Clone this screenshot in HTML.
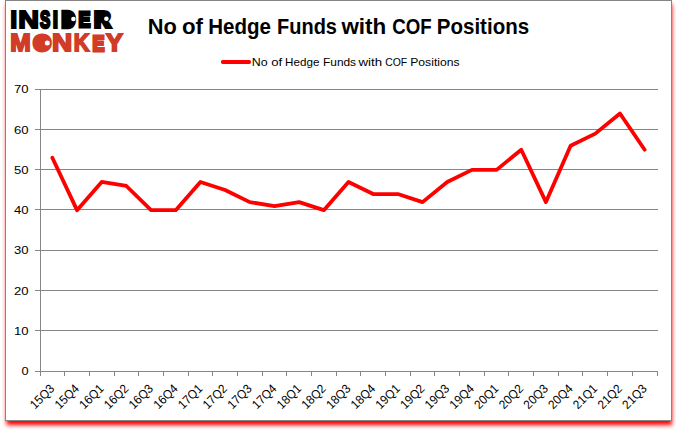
<!DOCTYPE html>
<html><head><meta charset="utf-8"><title>No of Hedge Funds with COF Positions</title>
<style>
html,body{margin:0;padding:0;background:#fff;}
body{width:678px;height:431px;overflow:hidden;position:relative;}
svg{position:absolute;left:0;top:0;}
.ax{font-family:"Liberation Sans",sans-serif;font-size:11.6px;fill:#000;}
.xl{font-family:"Liberation Sans",sans-serif;font-size:12.5px;fill:#000;}
.lg{font-family:"Liberation Sans",sans-serif;font-size:11.2px;fill:#000;}
.tt{font-family:"Liberation Sans",sans-serif;font-size:22px;font-weight:bold;fill:#000;}
.lo{font-family:"Liberation Sans",sans-serif;font-weight:bold;stroke-linejoin:miter;}
</style></head>
<body>
<svg width="678" height="431" viewBox="0 0 678 431">
<defs><filter id="sh" x="-5%" y="-5%" width="110%" height="110%"><feGaussianBlur stdDeviation="1.9"/></filter></defs>
<rect x="6.4" y="4" width="665.60" height="421.10" fill="#ff0000" filter="url(#sh)"/>
<rect x="5.5" y="0.5" width="666" height="420" fill="#fff" stroke="#848484" stroke-width="1"/>
<line x1="35" y1="371.5" x2="658" y2="371.5" stroke="#868686" stroke-width="1"/>
<line x1="35" y1="330.5" x2="658" y2="330.5" stroke="#868686" stroke-width="1"/>
<line x1="35" y1="290.5" x2="658" y2="290.5" stroke="#868686" stroke-width="1"/>
<line x1="35" y1="250.5" x2="658" y2="250.5" stroke="#868686" stroke-width="1"/>
<line x1="35" y1="209.5" x2="658" y2="209.5" stroke="#868686" stroke-width="1"/>
<line x1="35" y1="169.5" x2="658" y2="169.5" stroke="#868686" stroke-width="1"/>
<line x1="35" y1="129.5" x2="658" y2="129.5" stroke="#868686" stroke-width="1"/>
<line x1="35" y1="89.5" x2="658" y2="89.5" stroke="#868686" stroke-width="1"/>
<line x1="40.5" y1="89" x2="40.5" y2="372" stroke="#868686" stroke-width="1"/>
<line x1="40.5" y1="371" x2="40.5" y2="376" stroke="#868686" stroke-width="1"/>
<line x1="64.5" y1="371" x2="64.5" y2="376" stroke="#868686" stroke-width="1"/>
<line x1="89.5" y1="371" x2="89.5" y2="376" stroke="#868686" stroke-width="1"/>
<line x1="114.5" y1="371" x2="114.5" y2="376" stroke="#868686" stroke-width="1"/>
<line x1="138.5" y1="371" x2="138.5" y2="376" stroke="#868686" stroke-width="1"/>
<line x1="163.5" y1="371" x2="163.5" y2="376" stroke="#868686" stroke-width="1"/>
<line x1="188.5" y1="371" x2="188.5" y2="376" stroke="#868686" stroke-width="1"/>
<line x1="212.5" y1="371" x2="212.5" y2="376" stroke="#868686" stroke-width="1"/>
<line x1="237.5" y1="371" x2="237.5" y2="376" stroke="#868686" stroke-width="1"/>
<line x1="262.5" y1="371" x2="262.5" y2="376" stroke="#868686" stroke-width="1"/>
<line x1="286.5" y1="371" x2="286.5" y2="376" stroke="#868686" stroke-width="1"/>
<line x1="311.5" y1="371" x2="311.5" y2="376" stroke="#868686" stroke-width="1"/>
<line x1="336.5" y1="371" x2="336.5" y2="376" stroke="#868686" stroke-width="1"/>
<line x1="360.5" y1="371" x2="360.5" y2="376" stroke="#868686" stroke-width="1"/>
<line x1="385.5" y1="371" x2="385.5" y2="376" stroke="#868686" stroke-width="1"/>
<line x1="410.5" y1="371" x2="410.5" y2="376" stroke="#868686" stroke-width="1"/>
<line x1="434.5" y1="371" x2="434.5" y2="376" stroke="#868686" stroke-width="1"/>
<line x1="459.5" y1="371" x2="459.5" y2="376" stroke="#868686" stroke-width="1"/>
<line x1="484.5" y1="371" x2="484.5" y2="376" stroke="#868686" stroke-width="1"/>
<line x1="508.5" y1="371" x2="508.5" y2="376" stroke="#868686" stroke-width="1"/>
<line x1="533.5" y1="371" x2="533.5" y2="376" stroke="#868686" stroke-width="1"/>
<line x1="558.5" y1="371" x2="558.5" y2="376" stroke="#868686" stroke-width="1"/>
<line x1="582.5" y1="371" x2="582.5" y2="376" stroke="#868686" stroke-width="1"/>
<line x1="607.5" y1="371" x2="607.5" y2="376" stroke="#868686" stroke-width="1"/>
<line x1="632.5" y1="371" x2="632.5" y2="376" stroke="#868686" stroke-width="1"/>
<line x1="657.5" y1="371" x2="657.5" y2="376" stroke="#868686" stroke-width="1"/>
<text x="28.6" y="375" text-anchor="end" class="ax" textLength="7.1" lengthAdjust="spacingAndGlyphs">0</text>
<text x="28.6" y="335" text-anchor="end" class="ax" textLength="14.6" lengthAdjust="spacingAndGlyphs">10</text>
<text x="28.6" y="295" text-anchor="end" class="ax" textLength="14.6" lengthAdjust="spacingAndGlyphs">20</text>
<text x="28.6" y="254" text-anchor="end" class="ax" textLength="14.6" lengthAdjust="spacingAndGlyphs">30</text>
<text x="28.6" y="214" text-anchor="end" class="ax" textLength="14.6" lengthAdjust="spacingAndGlyphs">40</text>
<text x="28.6" y="174" text-anchor="end" class="ax" textLength="14.6" lengthAdjust="spacingAndGlyphs">50</text>
<text x="28.6" y="134" text-anchor="end" class="ax" textLength="14.6" lengthAdjust="spacingAndGlyphs">60</text>
<text x="28.6" y="93" text-anchor="end" class="ax" textLength="14.6" lengthAdjust="spacingAndGlyphs">70</text>
<text transform="translate(52.34,386.60) rotate(-45)" x="0" y="4.06" text-anchor="end" class="xl" textLength="28.6" lengthAdjust="spacingAndGlyphs">15Q3</text>
<text transform="translate(77.02,386.60) rotate(-45)" x="0" y="4.06" text-anchor="end" class="xl" textLength="28.6" lengthAdjust="spacingAndGlyphs">15Q4</text>
<text transform="translate(101.70,386.60) rotate(-45)" x="0" y="4.06" text-anchor="end" class="xl" textLength="28.6" lengthAdjust="spacingAndGlyphs">16Q1</text>
<text transform="translate(126.38,386.60) rotate(-45)" x="0" y="4.06" text-anchor="end" class="xl" textLength="28.6" lengthAdjust="spacingAndGlyphs">16Q2</text>
<text transform="translate(151.06,386.60) rotate(-45)" x="0" y="4.06" text-anchor="end" class="xl" textLength="28.6" lengthAdjust="spacingAndGlyphs">16Q3</text>
<text transform="translate(175.74,386.60) rotate(-45)" x="0" y="4.06" text-anchor="end" class="xl" textLength="28.6" lengthAdjust="spacingAndGlyphs">16Q4</text>
<text transform="translate(200.42,386.60) rotate(-45)" x="0" y="4.06" text-anchor="end" class="xl" textLength="28.6" lengthAdjust="spacingAndGlyphs">17Q1</text>
<text transform="translate(225.10,386.60) rotate(-45)" x="0" y="4.06" text-anchor="end" class="xl" textLength="28.6" lengthAdjust="spacingAndGlyphs">17Q2</text>
<text transform="translate(249.78,386.60) rotate(-45)" x="0" y="4.06" text-anchor="end" class="xl" textLength="28.6" lengthAdjust="spacingAndGlyphs">17Q3</text>
<text transform="translate(274.46,386.60) rotate(-45)" x="0" y="4.06" text-anchor="end" class="xl" textLength="28.6" lengthAdjust="spacingAndGlyphs">17Q4</text>
<text transform="translate(299.14,386.60) rotate(-45)" x="0" y="4.06" text-anchor="end" class="xl" textLength="28.6" lengthAdjust="spacingAndGlyphs">18Q1</text>
<text transform="translate(323.82,386.60) rotate(-45)" x="0" y="4.06" text-anchor="end" class="xl" textLength="28.6" lengthAdjust="spacingAndGlyphs">18Q2</text>
<text transform="translate(348.50,386.60) rotate(-45)" x="0" y="4.06" text-anchor="end" class="xl" textLength="28.6" lengthAdjust="spacingAndGlyphs">18Q3</text>
<text transform="translate(373.18,386.60) rotate(-45)" x="0" y="4.06" text-anchor="end" class="xl" textLength="28.6" lengthAdjust="spacingAndGlyphs">18Q4</text>
<text transform="translate(397.86,386.60) rotate(-45)" x="0" y="4.06" text-anchor="end" class="xl" textLength="28.6" lengthAdjust="spacingAndGlyphs">19Q1</text>
<text transform="translate(422.54,386.60) rotate(-45)" x="0" y="4.06" text-anchor="end" class="xl" textLength="28.6" lengthAdjust="spacingAndGlyphs">19Q2</text>
<text transform="translate(447.22,386.60) rotate(-45)" x="0" y="4.06" text-anchor="end" class="xl" textLength="28.6" lengthAdjust="spacingAndGlyphs">19Q3</text>
<text transform="translate(471.90,386.60) rotate(-45)" x="0" y="4.06" text-anchor="end" class="xl" textLength="28.6" lengthAdjust="spacingAndGlyphs">19Q4</text>
<text transform="translate(496.58,386.60) rotate(-45)" x="0" y="4.06" text-anchor="end" class="xl" textLength="28.6" lengthAdjust="spacingAndGlyphs">20Q1</text>
<text transform="translate(521.26,386.60) rotate(-45)" x="0" y="4.06" text-anchor="end" class="xl" textLength="28.6" lengthAdjust="spacingAndGlyphs">20Q2</text>
<text transform="translate(545.94,386.60) rotate(-45)" x="0" y="4.06" text-anchor="end" class="xl" textLength="28.6" lengthAdjust="spacingAndGlyphs">20Q3</text>
<text transform="translate(570.62,386.60) rotate(-45)" x="0" y="4.06" text-anchor="end" class="xl" textLength="28.6" lengthAdjust="spacingAndGlyphs">20Q4</text>
<text transform="translate(595.30,386.60) rotate(-45)" x="0" y="4.06" text-anchor="end" class="xl" textLength="28.6" lengthAdjust="spacingAndGlyphs">21Q1</text>
<text transform="translate(619.98,386.60) rotate(-45)" x="0" y="4.06" text-anchor="end" class="xl" textLength="28.6" lengthAdjust="spacingAndGlyphs">21Q2</text>
<text transform="translate(644.66,386.60) rotate(-45)" x="0" y="4.06" text-anchor="end" class="xl" textLength="28.6" lengthAdjust="spacingAndGlyphs">21Q3</text>
<polyline points="52.34,157.79 77.02,210.16 101.70,181.96 126.38,185.99 151.06,210.16 175.74,210.16 200.42,181.96 225.10,190.01 249.78,202.10 274.46,206.13 299.14,202.10 323.82,210.16 348.50,181.96 373.18,194.04 397.86,194.04 422.54,202.10 447.22,181.96 471.90,169.87 496.58,169.87 521.26,149.73 545.94,202.10 570.62,145.70 595.30,133.61 619.98,113.47 644.66,149.73" fill="none" stroke="#ff0000" stroke-width="3.8" stroke-linejoin="round" stroke-linecap="round"/>
<line x1="222.8" y1="62" x2="249.2" y2="62" stroke="#ff0000" stroke-width="3.8" stroke-linecap="round"/>
<text y="65.9" class="lg"><tspan x="251.87" textLength="15.88" lengthAdjust="spacingAndGlyphs">No</tspan> <tspan x="271.21" textLength="11.00" lengthAdjust="spacingAndGlyphs">of</tspan> <tspan x="285.12" textLength="34.27" lengthAdjust="spacingAndGlyphs">Hedge</tspan> <tspan x="323.00" textLength="33.06" lengthAdjust="spacingAndGlyphs">Funds</tspan> <tspan x="358.50" textLength="23.58" lengthAdjust="spacingAndGlyphs">with</tspan> <tspan x="385.13" textLength="22.02" lengthAdjust="spacingAndGlyphs">COF</tspan> <tspan x="410.18" textLength="49.46" lengthAdjust="spacingAndGlyphs">Positions</tspan></text>
<text y="33.9" class="tt"><tspan x="147.81" textLength="29.11" lengthAdjust="spacingAndGlyphs">No</tspan> <tspan x="181.94" textLength="21.02" lengthAdjust="spacingAndGlyphs">of</tspan> <tspan x="208.20" textLength="62.70" lengthAdjust="spacingAndGlyphs">Hedge</tspan> <tspan x="277.04" textLength="59.94" lengthAdjust="spacingAndGlyphs">Funds</tspan> <tspan x="341.40" textLength="44.87" lengthAdjust="spacingAndGlyphs">with</tspan> <tspan x="392.16" textLength="39.43" lengthAdjust="spacingAndGlyphs">COF</tspan> <tspan x="436.80" textLength="92.31" lengthAdjust="spacingAndGlyphs">Positions</tspan></text>
<rect x="64" y="12.5" width="9" height="14" fill="#000"/><rect x="97" y="12" width="9" height="8" fill="#000"/><circle cx="42.2" cy="42.9" r="8.5" fill="#d03c27"/>
<text y="28.00" class="lo" style="font-size:24.27px" fill="#000" stroke="#000"><tspan x="10.23" y="28.00" textLength="6.94" lengthAdjust="spacingAndGlyphs" style="stroke-width:1.8px;font-size:24.27px">I</tspan><tspan x="18.18" y="28.00" textLength="20.76" lengthAdjust="spacingAndGlyphs" style="stroke-width:1.8px;font-size:24.27px">N</tspan><tspan x="39.96" y="27.60" textLength="10.24" lengthAdjust="spacingAndGlyphs" style="stroke-width:2.6px;font-size:23.11px">S</tspan><tspan x="52.51" y="28.00" textLength="5.79" lengthAdjust="spacingAndGlyphs" style="stroke-width:1.8px;font-size:24.27px">I</tspan><tspan x="62.06" y="26.65" textLength="12.84" lengthAdjust="spacingAndGlyphs" style="stroke-width:4.5px;font-size:21.37px">D</tspan><tspan x="78.51" y="27.40" textLength="11.89" lengthAdjust="spacingAndGlyphs" style="stroke-width:3.0px;font-size:22.53px">E</tspan><tspan x="94.55" y="26.90" textLength="15.70" lengthAdjust="spacingAndGlyphs" style="stroke-width:4.0px;font-size:22.09px">R</tspan></text>
<text y="51.10" class="lo" style="font-size:24.27px" fill="#d03c27" stroke="#d03c27"><tspan x="10.25" y="51.10" textLength="20.49" lengthAdjust="spacingAndGlyphs" style="stroke-width:1.8px;font-size:24.27px">M</tspan><tspan x="34.26" y="49.50" textLength="15.90" lengthAdjust="spacingAndGlyphs" style="stroke-width:5.0px;font-size:19.62px">O</tspan><tspan x="51.93" y="51.10" textLength="20.15" lengthAdjust="spacingAndGlyphs" style="stroke-width:1.8px;font-size:24.27px">N</tspan><tspan x="73.85" y="51.10" textLength="15.65" lengthAdjust="spacingAndGlyphs" style="stroke-width:1.8px;font-size:24.27px">K</tspan><tspan x="92.41" y="50.50" textLength="11.89" lengthAdjust="spacingAndGlyphs" style="stroke-width:3.0px;font-size:22.53px">E</tspan><tspan x="105.97" y="51.10" textLength="16.84" lengthAdjust="spacingAndGlyphs" style="stroke-width:1.8px;font-size:24.27px">Y</tspan></text>
<circle cx="73.4" cy="19.0" r="2.3" fill="#fff"/><circle cx="106.4" cy="18.7" r="2.3" fill="#fff"/><circle cx="47.3" cy="43.0" r="2.5" fill="#fff"/>
</svg>
</body></html>
